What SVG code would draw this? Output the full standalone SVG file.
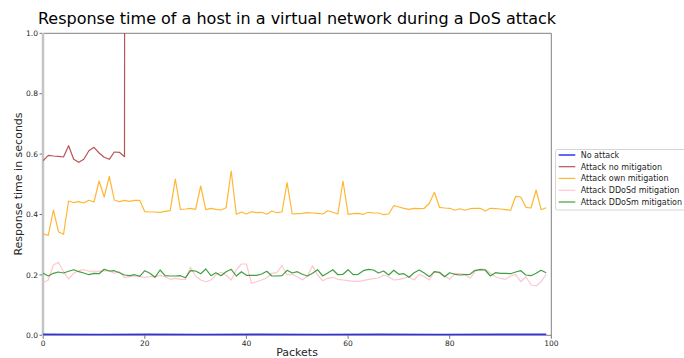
<svg xmlns="http://www.w3.org/2000/svg" width="684" height="358" viewBox="0 0 684 358">
<style>
text{font-family:"DejaVu Sans","Liberation Sans",sans-serif;fill:#262626}
.tick{font-size:7.5px}
.lbl{font-size:11px}
.ttl{font-size:16px;fill:#000}
.leg{font-size:8px}
.s{fill:none;stroke-width:1.2;stroke-linejoin:round}
.blue{stroke:#0000ff;stroke-opacity:0.8;stroke-width:1.5}
.brown{stroke:#a52a2a;stroke-opacity:0.8}
.orange{stroke:#ffa500;stroke-opacity:0.8}
.pink{stroke:#ffc0cb;stroke-opacity:0.9}
.green{stroke:#008000;stroke-opacity:0.75}
.tk{stroke:#555;stroke-width:0.8}
</style>
<defs><clipPath id="plot"><rect x="43" y="33.3" width="508.3" height="302"/></clipPath></defs>
<rect width="684" height="358" fill="#fff"/>
<text class="ttl" x="297" y="24" text-anchor="middle">Response time of a host in a virtual network during a DoS attack</text>
<g id="axes">
<line x1="43" y1="33.3" x2="551.3" y2="33.3" stroke="#808080" stroke-width="1"/>
<line x1="551.3" y1="33.3" x2="551.3" y2="335.3" stroke="#808080" stroke-width="1"/>
<line x1="43" y1="335.3" x2="551.3" y2="335.3" stroke="#808080" stroke-width="1"/>
<line x1="43" y1="33" x2="43" y2="335.6" stroke="#c4c4c4" stroke-width="2.5"/>
<g class="tk">
<line x1="39.5" y1="33.3" x2="42" y2="33.3"/><line x1="39.5" y1="93.7" x2="42" y2="93.7"/><line x1="39.5" y1="154.1" x2="42" y2="154.1"/><line x1="39.5" y1="214.5" x2="42" y2="214.5"/><line x1="39.5" y1="274.9" x2="42" y2="274.9"/><line x1="39.5" y1="335.3" x2="42" y2="335.3"/>
<line x1="43.2" y1="335.3" x2="43.2" y2="338.8"/><line x1="144.8" y1="335.3" x2="144.8" y2="338.8"/><line x1="246.4" y1="335.3" x2="246.4" y2="338.8"/><line x1="348.1" y1="335.3" x2="348.1" y2="338.8"/><line x1="449.7" y1="335.3" x2="449.7" y2="338.8"/><line x1="551.3" y1="335.3" x2="551.3" y2="338.8"/>
</g>
<g class="tick" text-anchor="end">
<text x="38" y="36">1.0</text><text x="38" y="96.4">0.8</text><text x="38" y="156.8">0.6</text><text x="38" y="217.2">0.4</text><text x="38" y="277.6">0.2</text><text x="38" y="338">0.0</text>
</g>
<g class="tick" text-anchor="middle">
<text x="43.2" y="346">0</text><text x="144.8" y="346">20</text><text x="246.4" y="346">40</text><text x="348.1" y="346">60</text><text x="449.7" y="346">80</text><text x="551.3" y="346">100</text>
</g>
<text class="lbl" x="297" y="356" text-anchor="middle">Packets</text>
<text class="lbl" transform="translate(22,184) rotate(-90)" text-anchor="middle">Response time in seconds</text>
</g>
<g id="series" clip-path="url(#plot)">
<polyline class="s blue" points="43.2,334.3 100,334.4 150,334.2 200,334.5 260,334.3 320,334.4 380,334.2 440,334.4 500,334.3 546.2,334.3"/>
<polyline class="s brown" points="43.2,160.7 48.3,155.3 53.4,156 58.4,156.3 63.5,157 68.6,145.7 73.7,159.3 78.8,162.3 83.8,159.3 88.9,150.7 94.0,147.3 99.1,153 104.2,157.3 109.3,159.3 114.3,152 119.4,152.3 124.5,156.7 124.6,20"/>
<polyline class="s orange" points="43.2,234 48.3,235.3 53.4,210 58.4,231.7 63.5,234.3 68.6,201 73.7,202.7 78.8,201.7 83.8,203 88.9,200.3 94.0,202 99.1,181 104.2,197 109.3,176.3 114.3,200 119.4,201.7 124.5,200.3 129.6,201.3 134.7,200.3 139.7,200.3 144.8,211.7 149.9,212 155.0,212 160.1,212.3 165.1,211.3 170.2,210.7 175.3,179 180.4,209.3 185.5,209 190.5,208.3 195.6,209.3 200.7,186 205.8,209.7 210.9,208.3 215.9,209.3 221.0,210 226.1,207.7 231.2,171 236.3,214.3 241.4,212 246.4,214 251.5,211.7 256.6,212.7 261.7,212.3 266.8,214.3 271.8,211 276.9,212.7 282.0,212 287.1,182.7 292.2,214 297.3,213.7 302.3,213.3 307.4,212.7 312.5,213 317.6,213.3 322.7,214 327.7,210.7 332.8,212.3 337.9,214 343.0,181 348.1,214.3 353.1,213.7 358.2,213.3 363.3,214.3 368.4,212.3 373.5,213 378.5,213 383.6,214.7 388.7,214 393.8,205.7 398.9,207 403.9,208.3 409.0,209.3 414.1,208.3 419.2,208.7 424.3,208.3 429.4,203.3 434.4,192.3 439.5,207.3 444.6,208 449.7,208.3 454.8,210.3 459.8,208.7 464.9,210.3 470.0,208.7 475.1,208.3 480.2,208.3 485.2,211 490.3,208.3 495.4,208.7 500.5,209 505.6,209.7 510.6,210.3 515.7,196.3 520.8,197 525.9,207.3 531.0,208 536.1,190 541.1,209.7 546.2,207.7"/>
<polyline class="s pink" points="43.2,282.7 48.3,280 53.4,265 58.4,262.3 63.5,271.7 68.6,279 73.7,273.3 78.8,270.7 83.8,269.7 88.9,271.3 94.0,271 99.1,271.3 104.2,270.7 109.3,271 114.3,273.3 119.4,271.7 124.5,277.7 129.6,276.7 134.7,276 139.7,276.7 144.8,277.3 149.9,276.7 155.0,276.7 160.1,275.3 165.1,276.7 170.2,279.3 175.3,278.3 180.4,279.3 185.5,279.3 190.5,267.3 195.6,276 200.7,280 205.8,281.7 210.9,280 215.9,275 221.0,272.3 226.1,275 231.2,280 236.3,270 241.4,264 246.4,264 251.5,283.3 256.6,281.7 261.7,280 266.8,277.7 271.8,273.3 276.9,272.7 282.0,265.7 287.1,275 292.2,274.3 297.3,276.7 302.3,280 307.4,276 312.5,265.7 317.6,275 322.7,280.7 327.7,278.3 332.8,277.3 337.9,279.3 343.0,280 348.1,280.7 353.1,281.3 358.2,281.3 363.3,280.7 368.4,279.3 373.5,278.7 378.5,278 383.6,275 388.7,276.7 393.8,280 398.9,279.3 403.9,278.3 409.0,276.7 414.1,280 419.2,274.3 424.3,276.7 429.4,280 434.4,271.7 439.5,273.3 444.6,276 449.7,279.3 454.8,273.3 459.8,273.7 464.9,274.3 470.0,278.3 475.1,271.7 480.2,269 485.2,269.3 490.3,273.3 495.4,276.7 500.5,278.3 505.6,279.3 510.6,276 515.7,274.7 520.8,281.7 525.9,276.7 531.0,285 536.1,286 541.1,281.7 546.2,274.3"/>
<polyline class="s green" points="43.2,273.3 48.3,276 53.4,273.3 58.4,272 63.5,273 68.6,271.3 73.7,269.7 78.8,271.7 83.8,273 88.9,274.7 94.0,273.3 99.1,273.7 104.2,269.3 109.3,271 114.3,270.7 119.4,272.7 124.5,275 129.6,275.7 134.7,274.7 139.7,276.3 144.8,270.7 149.9,273.3 155.0,277.3 160.1,270 165.1,275.7 170.2,276 175.3,276 180.4,275.7 185.5,277.7 190.5,270.7 195.6,271 200.7,273.7 205.8,269 210.9,275.7 215.9,272.7 221.0,275.7 226.1,271.7 231.2,269.3 236.3,276 241.4,271.7 246.4,275.3 251.5,275.3 256.6,275.3 261.7,274 266.8,271.3 271.8,276 276.9,276 282.0,275.7 287.1,270.3 292.2,273 297.3,271.7 302.3,274.3 307.4,276 312.5,273.3 317.6,269.7 322.7,276 327.7,273 332.8,269.7 337.9,274.7 343.0,274.3 348.1,269.7 353.1,274.7 358.2,274.3 363.3,270.7 368.4,269.3 373.5,270 378.5,273 383.6,271 388.7,275 393.8,270.3 398.9,274.3 403.9,273.7 409.0,277.3 414.1,272.7 419.2,270 424.3,273 429.4,276.7 434.4,271.7 439.5,272.3 444.6,276.7 449.7,272.7 454.8,274.3 459.8,275 464.9,274.7 470.0,274.3 475.1,270.3 480.2,269.7 485.2,270 490.3,276 495.4,272.7 500.5,273.3 505.6,273.3 510.6,273.7 515.7,272 520.8,270.7 525.9,275 531.0,275.7 536.1,273.3 541.1,270.3 546.2,272.7"/>
</g>
<g id="legend">
<rect x="555.5" y="149.5" width="140" height="60.5" rx="2" fill="#fff" fill-opacity="0.8" stroke="#cccccc" stroke-width="0.8"/>
<line class="s blue" x1="558.7" y1="155" x2="575.3" y2="155"/>
<line class="s brown" x1="558.7" y1="166.7" x2="575.3" y2="166.7"/>
<line class="s orange" x1="558.7" y1="178.4" x2="575.3" y2="178.4"/>
<line class="s pink" x1="558.7" y1="190.3" x2="575.3" y2="190.3"/>
<line class="s green" x1="558.7" y1="202" x2="575.3" y2="202"/>
<g class="leg">
<text x="580.7" y="157.9">No attack</text>
<text x="580.7" y="169.6">Attack no mitigation</text>
<text x="580.7" y="181.3">Attack own mitigation</text>
<text x="580.7" y="193.2">Attack DDoSd mitigation</text>
<text x="580.7" y="204.9">Attack DDoSm mitigation</text>
</g>
</g>
</svg>
